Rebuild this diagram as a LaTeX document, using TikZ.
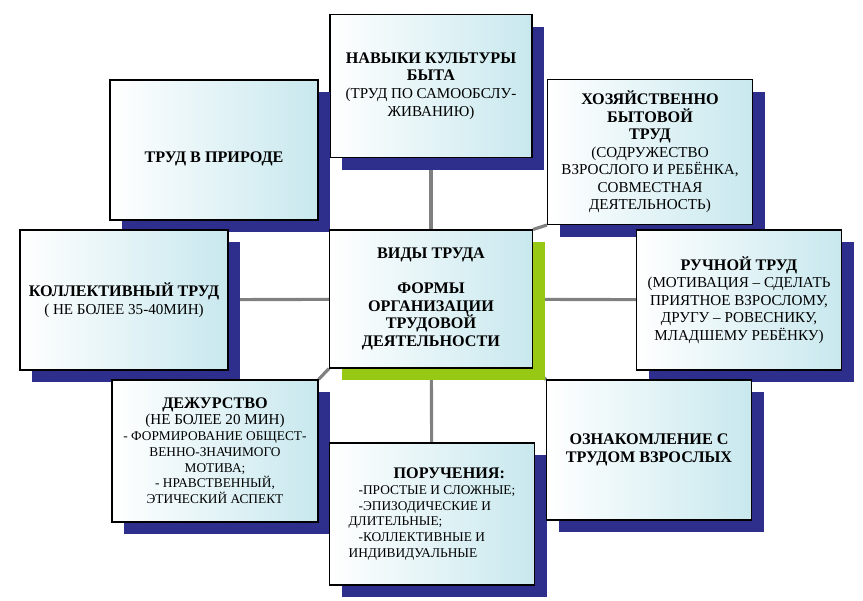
\documentclass[tikz,border=0pt]{standalone}
\usepackage{fontspec}
\setmainfont{Liberation Serif}
\usetikzlibrary{shadows,backgrounds}
\definecolor{navy}{RGB}{46,46,140}
\definecolor{lime}{RGB}{150,200,20}
\definecolor{pale}{RGB}{200,232,238}
\tikzset{
  card/.style={draw=black,line width=0.6pt,left color=white,right color=pale,
    align=center,inner sep=2pt,font=\fontsize{8.6}{10}\selectfont,
    drop shadow={shadow xshift=7pt,shadow yshift=-7pt,fill=navy,opacity=1}},
  hub/.style={card,drop shadow={shadow xshift=7pt,shadow yshift=-7pt,fill=lime,opacity=1}},
  link/.style={draw=gray,line width=1.8pt}
}
\newcommand{\hd}[1]{{\bfseries\fontsize{9.2}{11}\selectfont #1}}
\begin{document}
\begin{tikzpicture}[x=0.02cm,y=-0.02cm]
\useasboundingbox (0,0) rectangle (863,601);
\node[card,minimum width=4.04cm,minimum height=2.86cm] (self) at (431,86)
  {\hd{НАВЫКИ КУЛЬТУРЫ}\\\hd{БЫТА}\\(ТРУД ПО САМООБСЛУ-\\ЖИВАНИЮ)};
\node[card,minimum width=4.16cm,minimum height=2.8cm] (nature) at (214,150)
  {\\[6pt]\hd{ТРУД В ПРИРОДЕ}};
\node[card,minimum width=4.1cm,minimum height=2.9cm] (house) at (650,152)
  {\hd{ХОЗЯЙСТВЕННО}\\\hd{БЫТОВОЙ}\\\hd{ТРУД}\\(СОДРУЖЕСТВО\\ВЗРОСЛОГО И РЕБЁНКА,\\СОВМЕСТНАЯ\\ДЕЯТЕЛЬНОСТЬ)};
\node[card,minimum width=4.16cm,minimum height=2.8cm] (group) at (124,300)
  {\hd{КОЛЛЕКТИВНЫЙ ТРУД}\\( НЕ БОЛЕЕ 35-40МИН)};
\node[hub,minimum width=4.06cm,minimum height=2.76cm] (forms) at (431,299)
  {\hd{ВИДЫ ТРУДА}\\[10pt]\hd{ФОРМЫ}\\\hd{ОРГАНИЗАЦИИ}\\\hd{ТРУДОВОЙ}\\\hd{ДЕЯТЕЛЬНОСТИ}};
\node[card,minimum width=4.1cm,minimum height=2.8cm] (hand) at (739,300)
  {\hd{РУЧНОЙ ТРУД}\\(МОТИВАЦИЯ – СДЕЛАТЬ\\ПРИЯТНОЕ ВЗРОСЛОМУ,\\ДРУГУ – РОВЕСНИКУ,\\МЛАДШЕМУ РЕБЁНКУ)};
\node[card,minimum width=4.12cm,minimum height=2.84cm,font=\fontsize{7.6}{9}\selectfont] (duty) at (215,451)
  {\hd{ДЕЖУРСТВО}\\{\fontsize{8.6}{10}\selectfont(НЕ БОЛЕЕ 20 МИН)}\\- ФОРМИРОВАНИЕ ОБЩЕСТ-\\ВЕННО-ЗНАЧИМОГО\\МОТИВА;\\- НРАВСТВЕННЫЙ,\\ЭТИЧЕСКИЙ АСПЕКТ};
\node[card,minimum width=4.1cm,minimum height=2.84cm,font=\fontsize{7.6}{9}\selectfont,align=left,inner sep=0pt] (tasks) at (432,514)
  {\hspace{0.9cm}\hd{ПОРУЧЕНИЯ:}\\\hspace{0.2cm}-ПРОСТЫЕ И СЛОЖНЫЕ;\\\hspace{0.2cm}-ЭПИЗОДИЧЕСКИЕ И\\ДЛИТЕЛЬНЫЕ;\\\hspace{0.2cm}-КОЛЛЕКТИВНЫЕ И\\ИНДИВИДУАЛЬНЫЕ};
\node[card,minimum width=4.1cm,minimum height=2.8cm] (adults) at (649,450)
  {\hd{ОЗНАКОМЛЕНИЕ С}\\\hd{ТРУДОМ ВЗРОСЛЫХ}};
% spokes
\begin{scope}[on background layer]
\draw[link] (forms) -- (self);
\draw[link] (forms) -- (tasks);
\draw[link] (forms) -- (group);
\draw[link] (forms) -- (hand);
\draw[link] (forms.north west) -- (nature.south east);
\draw[link] (forms.north east) -- (house.south west);
\draw[link] (forms.south west) -- (duty.north east);
\draw[link] (forms.south east) -- (adults.north west);
\end{scope}
\end{tikzpicture}
\end{document}
